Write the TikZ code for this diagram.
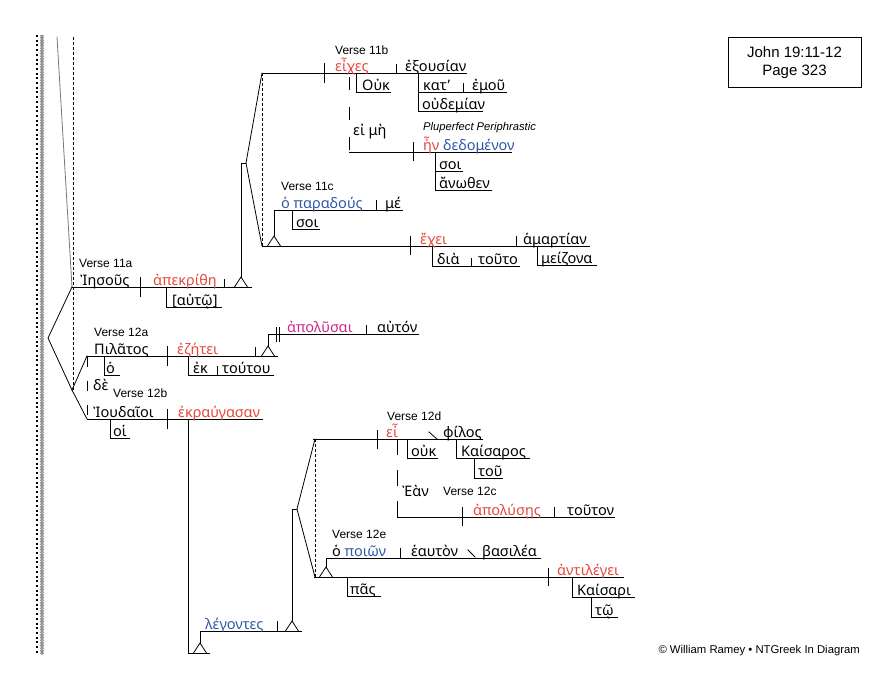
\documentclass[tikz,border=0pt]{standalone}
\usepackage{fontspec}
\setmainfont{Liberation Sans}
\newfontfamily\gkfont{Noto Sans}
\usetikzlibrary{decorations.pathmorphing}
\definecolor{gred}{RGB}{228,72,60}
\definecolor{gblue}{RGB}{45,88,168}
\definecolor{gmag}{RGB}{205,40,140}
\definecolor{ggray}{RGB}{120,120,120}
\tikzset{
  ln/.style={line width=0.8pt, line cap=rect},
  gk/.style={inner sep=0pt, anchor=base west, font=\gkfont\fontsize{14.5}{14.5}\selectfont},
  vs/.style={inner sep=0pt, anchor=west, font=\fontsize{12}{12}\selectfont},
  fdash/.style={line width=0.7pt, dash pattern=on 3pt off 2pt},
  cdash/.style={line width=0.8pt},
}
\newcommand\ped[2]{\draw[ln] (#1-6.5,#2) -- (#1,#2-10) -- (#1+6.5,#2);}
\begin{document}
\begin{tikzpicture}[x=1pt,y=-1pt]
\useasboundingbox (0,0) rectangle (895,689);
% left border
\draw[line width=2pt, dash pattern=on 2pt off 2.7pt] (37,35) -- (37,655);
\draw[line width=0.5pt, ggray, decorate, decoration={zigzag, amplitude=1.6pt, segment length=3.2pt}] (42,35) -- (42,655);
\draw[line width=0.5pt, ggray, decorate, decoration={zigzag, amplitude=1.6pt, segment length=3.2pt, mirror}] (42,35) -- (42,655);
% title box
\node[draw, line width=0.7pt, minimum width=133pt, minimum height=50pt, inner sep=0pt] (title) at (794.5,62) {};
\node[font=\fontsize{15}{15}\selectfont] (t1) at (794.5,52) {John 19:11-12};
\node[font=\fontsize{15}{15}\selectfont] (t2) at (794.5,72) {Page 323};
\node[inner sep=0pt, anchor=east, font=\fontsize{11.3}{11.3}\selectfont] (copy) at (860,651) {© William Ramey • NTGreek In Diagram};
% left connectors
\draw[ln, ggray] (57,37) -- (72,287);
\draw[ln] (72,287) -- (48,338) -- (72,390);
\draw[fdash] (73,37) -- (73,390);
\draw[ln] (87,356) -- (72,390) -- (87,419);
\draw[cdash, dash pattern=on 10pt off 14pt] (87,357) -- (87,419);
% Verse 11a
\node[vs] (v11a) at (79,263) {Verse 11a};
\draw[ln] (72,287) -- (252,287);
\draw[ln] (140,277) -- (140,297);
\draw[ln] (224,279) -- (224,287);
\node[gk] (w1) at (80,285) {Ἰησοῦς};
\node[gk, gred] (w2) at (153,285) {ἀπεκρίθη};
\draw[ln] (166,287) -- (166,307) -- (222,307);
\node[gk] (w3) at (172,305) {[αὐτῷ]};
\ped{241}{287}
\draw[ln] (241,277) -- (241,163) -- (246,163);
\draw[ln] (262,73) -- (246,163) -- (262,246);
\draw[fdash] (262,73) -- (262,246);
% Verse 11b
\node[vs] (v11b) at (335,50) {Verse 11b};
\draw[ln] (262,73) -- (467,73);
\draw[ln] (324,63) -- (324,83);
\draw[ln] (396,64) -- (396,73);
\node[gk, gred] (w4) at (335,71) {εἶχες};
\node[gk] (w5) at (405,71) {ἐξουσίαν};
\draw[ln] (356,73) -- (356,92) -- (391,92);
\node[gk] (w6) at (362,90) {Οὐκ};
\draw[ln] (418,73) -- (418,111) -- (483,111);
\draw[ln] (418,92) -- (507,92);
\draw[ln] (463,83) -- (463,92);
\node[gk] (w7) at (423,90) {κατ’};
\node[gk] (w8) at (472,90) {ἐμοῦ};
\node[gk] (w9) at (422,109) {οὐδεμίαν};
\draw[cdash, dash pattern=on 13pt off 17pt] (349,77) -- (349,152);
\node[gk] (w10) at (353,135) {εἰ μὴ};
\node[inner sep=0pt, anchor=west, font=\itshape\fontsize{11.2}{11.2}\selectfont] (pp) at (423,128) {Pluperfect Periphrastic};
\draw[ln] (349,152) -- (512,152);
\draw[ln] (413,142) -- (413,161);
\node[gk] (w11) at (423,150) {\textcolor{gred}{ἦν} \textcolor{gblue}{δεδομένον}};
\draw[ln] (435,152) -- (435,190) -- (492,190);
\draw[ln] (435,171) -- (463,171);
\node[gk] (w12) at (439,169) {σοι};
\node[gk] (w13) at (439,188) {ἄνωθεν};
% Verse 11c
\node[vs] (v11c) at (281,186) {Verse 11c};
\draw[ln] (262,246) -- (590,246);
\ped{274}{246}
\draw[ln] (274,236) -- (274,210) -- (403,210);
\draw[ln] (376,200) -- (376,210);
\node[gk, gblue] (w14) at (281,208) {ὁ παραδούς};
\node[gk] (w15) at (385,208) {μέ};
\draw[ln] (292,210) -- (292,229) -- (320,229);
\node[gk] (w16) at (296,227) {σοι};
\draw[ln] (410,236) -- (410,255);
\draw[ln] (516,236) -- (516,246);
\node[gk, gred] (w17) at (420,244) {ἔχει};
\node[gk] (w18) at (523,244) {ἁμαρτίαν};
\draw[ln] (432,246) -- (432,266) -- (520,266);
\draw[ln] (471,258) -- (471,266);
\node[gk] (w19) at (437,264) {διὰ};
\node[gk] (w20) at (478,264) {τοῦτο};
\draw[ln] (537,246) -- (537,265) -- (597,265);
\node[gk] (w21) at (541,263) {μείζονα};
% Verse 12a
\node[vs] (v12a) at (94,332) {Verse 12a};
\draw[ln] (87,356) -- (278,356);
\draw[ln] (167,346) -- (167,366);
\draw[ln] (255,347) -- (255,356);
\node[gk] (w22) at (94,354) {Πιλᾶτος};
\node[gk, gred] (w23) at (177,354) {ἐζήτει};
\draw[ln] (104,356) -- (104,375) -- (120,375);
\node[gk] (w24) at (106,373) {ὁ};
\draw[ln] (188,356) -- (188,375) -- (274,375);
\draw[ln] (217,366) -- (217,375);
\node[gk] (w25) at (193,373) {ἐκ};
\node[gk] (w26) at (222,373) {τούτου};
\ped{268}{356}
\draw[ln] (268,346) -- (268,334) -- (419,334);
\draw[ln] (276,327) -- (276,342);
\draw[ln] (279,327) -- (279,342);
\draw[ln] (366,325) -- (366,334);
\node[gk, gmag] (w27) at (287,332) {ἀπολῦσαι};
\node[gk] (w28) at (377,332) {αὐτόν};
% Verse 12b
\node[gk] (w29) at (93,390) {δὲ};
\node[vs] (v12b) at (113,393) {Verse 12b};
\draw[ln] (87,419) -- (263,419);
\draw[ln] (167,409) -- (167,429);
\node[gk] (w30) at (93,417) {Ἰουδαῖοι};
\node[gk, gred] (w31) at (178,417) {ἐκραύγασαν};
\draw[ln] (110,419) -- (110,438) -- (130,438);
\node[gk] (w32) at (113,436) {οἱ};
\draw[ln] (188,419) -- (188,653) -- (210,653);
\ped{200}{653}
\draw[ln] (200,643) -- (200,631) -- (302,631);
\draw[ln] (277,621) -- (277,631);
\node[gk, gblue] (w33) at (205,629) {λέγοντες};
\ped{292}{631}
\draw[ln] (292,621) -- (292,509) -- (297,509);
\draw[ln] (315,439) -- (297,509) -- (315,577);
\draw[fdash] (315,439) -- (315,577);
% Verse 12d
\node[vs] (v12d) at (387,416) {Verse 12d};
\draw[ln] (313,439) -- (483,439);
\draw[ln] (377,430) -- (377,449);
\draw[ln] (429,432) -- (437,439);
\node[gk, gred] (w34) at (386,437) {εἶ};
\node[gk] (w35) at (443,437) {φίλος};
\draw[ln] (407,439) -- (407,458) -- (438,458);
\node[gk] (w36) at (411,456) {οὐκ};
\draw[ln] (456,439) -- (456,458) -- (530,458);
\node[gk] (w37) at (461,456) {Καίσαρος};
\draw[ln] (474,458) -- (474,478) -- (503,478);
\node[gk] (w38) at (478,476) {τοῦ};
\draw[cdash, dash pattern=on 16pt off 15pt] (397,439) -- (397,517);
\node[gk] (w39) at (402,496) {Ἐὰν};
\node[vs] (v12c) at (443,491) {Verse 12c};
\draw[ln] (397,517) -- (615,517);
\draw[ln] (462,507) -- (462,526);
\draw[ln] (554,507) -- (554,517);
\node[gk, gred] (w40) at (473,515) {ἀπολύσῃς};
\node[gk] (w41) at (567,515) {τοῦτον};
% Verse 12e
\node[vs] (v12e) at (332,534) {Verse 12e};
\draw[ln] (314,577) -- (624,577);
\ped{326}{577}
\draw[ln] (326,567) -- (326,558) -- (541,558);
\draw[ln] (400,548) -- (400,558);
\draw[ln] (468,550) -- (475,557);
\node[gk] (w42) at (332,556) {ὁ \textcolor{gblue}{ποιῶν}};
\node[gk] (w43) at (411,556) {ἑαυτὸν};
\node[gk] (w44) at (482,556) {βασιλέα};
\draw[ln] (548,568) -- (548,586);
\node[gk, gred] (w45) at (557,575) {ἀντιλέγει};
\draw[ln] (347,577) -- (347,596) -- (381,596);
\node[gk] (w46) at (350,594) {πᾶς};
\draw[ln] (572,577) -- (572,597) -- (635,597);
\node[gk] (w47) at (577,595) {Καίσαρι};
\draw[ln] (591,597) -- (591,617) -- (618,617);
\node[gk] (w48) at (595,615) {τῷ};
\end{tikzpicture}
\end{document}
